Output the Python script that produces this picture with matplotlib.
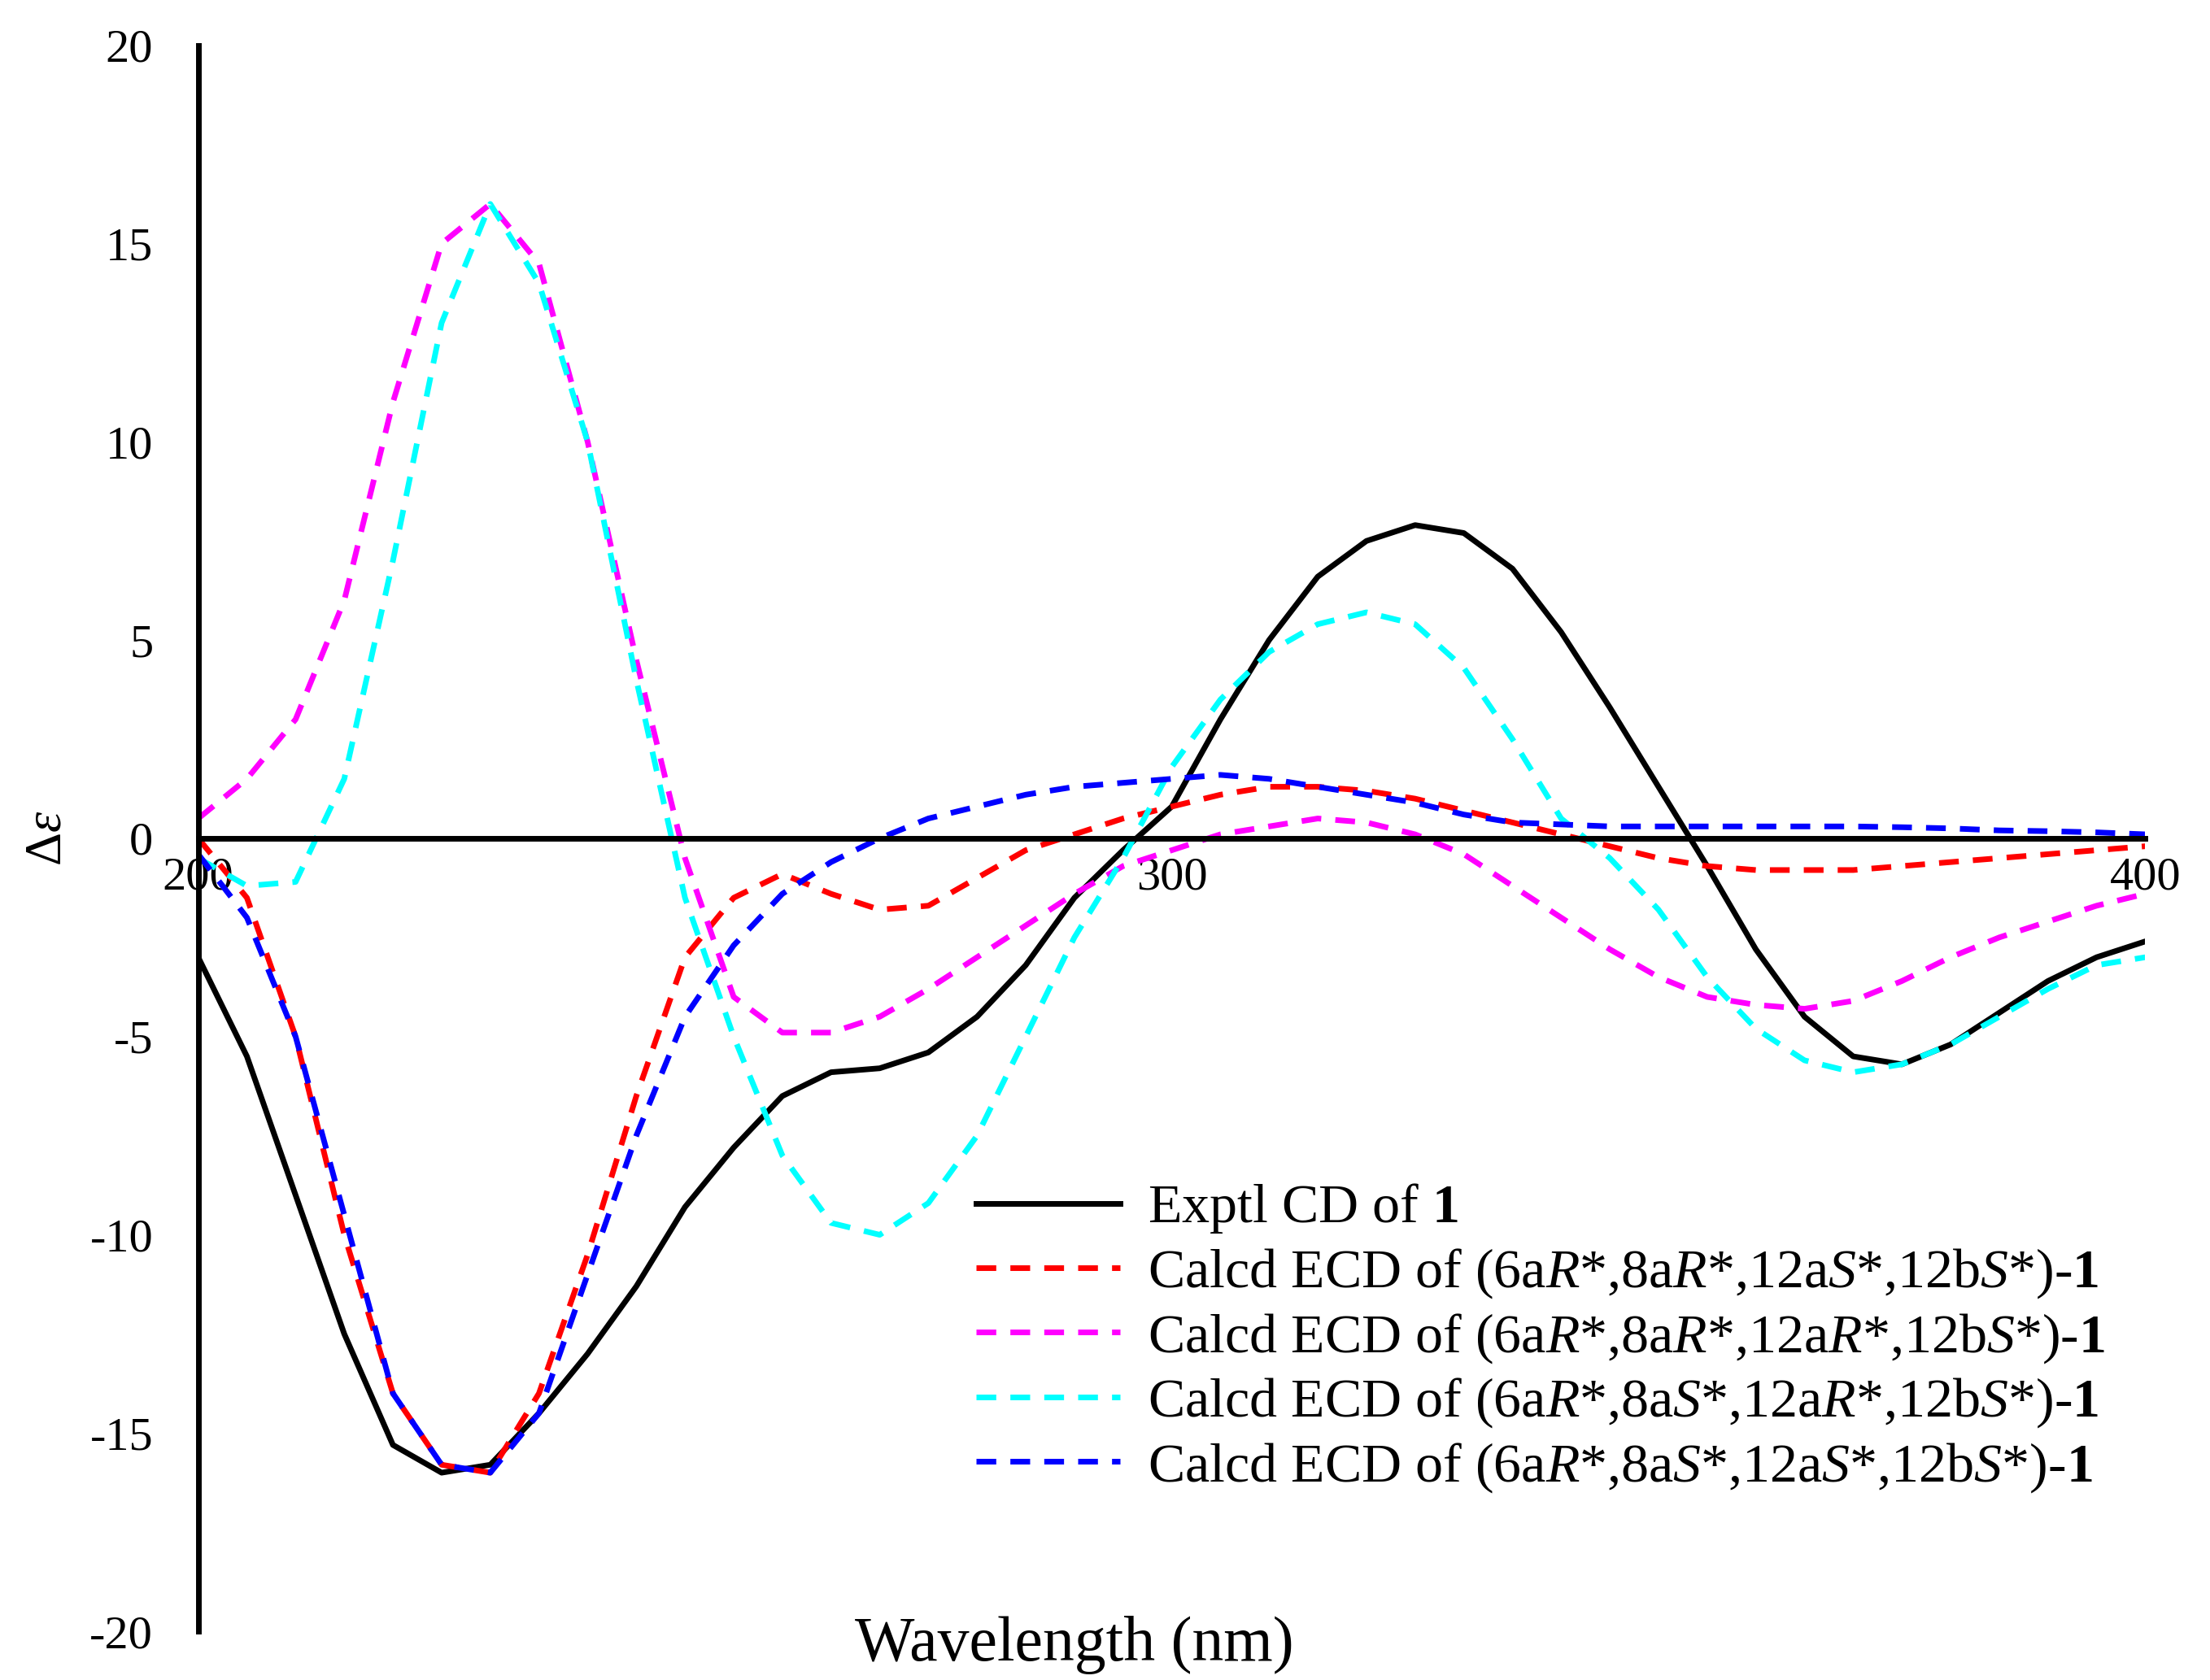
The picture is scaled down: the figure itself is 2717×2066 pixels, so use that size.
import numpy as np
import matplotlib
matplotlib.use("Agg")
import matplotlib.pyplot as plt

plt.rcParams['font.family'] = ['Liberation Serif', 'DejaVu Serif']
plt.rcParams['mathtext.fontset'] = 'custom'
plt.rcParams['mathtext.rm'] = 'Liberation Serif'
plt.rcParams['mathtext.it'] = 'Liberation Serif:italic'
plt.rcParams['mathtext.bf'] = 'Liberation Serif:bold'
plt.rcParams['axes.unicode_minus'] = False

wl = list(range(200, 401, 5))
exptl = [-3, -5.5, -9, -12.5, -15.3, -16, -15.8, -14.5, -13, -11.3, -9.3, -7.8, -6.5, -5.9, -5.8, -5.4, -4.5, -3.2, -1.5, -0.3,
         0.8, 3, 5, 6.6, 7.5, 7.9, 7.7, 6.8, 5.2, 3.3, 1.3, -0.7, -2.8, -4.5, -5.5, -5.7, -5.2, -4.4, -3.6, -3.0, -2.6]
red = [0, -1.5, -5, -10, -14, -15.8, -16, -14, -10.5, -6.5, -3, -1.5, -0.9, -1.4, -1.8, -1.7, -1.0, -0.3, 0.1, 0.5,
       0.8, 1.1, 1.3, 1.3, 1.2, 1.0, 0.7, 0.4, 0.1, -0.2, -0.5, -0.7, -0.8, -0.8, -0.8, -0.7, -0.6, -0.5, -0.4, -0.3, -0.2]
magenta = [0.5, 1.5, 3, 6, 11, 15, 16, 14.5, 10, 4.5, -0.5, -4, -4.9, -4.9, -4.5, -3.8, -3, -2.2, -1.4, -0.7,
           -0.3, 0.1, 0.3, 0.5, 0.4, 0.1, -0.4, -1.2, -2, -2.8, -3.5, -4, -4.2, -4.3, -4.1, -3.6, -3, -2.5, -2.1, -1.7, -1.4]
cyan = [-0.5, -1.2, -1.1, 1.5, 7, 13, 16, 14, 10, 4, -1.5, -5, -8, -9.7, -10, -9.2, -7.5, -5, -2.5, -0.5,
        1.8, 3.5, 4.7, 5.4, 5.7, 5.4, 4.3, 2.5, 0.5, -0.5, -1.8, -3.5, -4.8, -5.6, -5.9, -5.7, -5.2, -4.5, -3.8, -3.2, -3.0]
blue = [-0.4, -2, -5, -9.5, -14, -15.8, -16, -14.5, -11, -7.5, -4.5, -2.7, -1.4, -0.6, 0, 0.5, 0.8, 1.1, 1.3, 1.4,
        1.5, 1.6, 1.5, 1.3, 1.1, 0.9, 0.6, 0.4, 0.35, 0.3, 0.3, 0.3, 0.3, 0.3, 0.3, 0.28, 0.25, 0.2, 0.18, 0.15, 0.1]

labels = [r'Exptl CD of $\mathbf{1}$',
          r'Calcd ECD of (6a$\it{R}$*,8a$\it{R}$*,12a$\it{S}$*,12b$\it{S}$*)-$\mathbf{1}$',
          r'Calcd ECD of (6a$\it{R}$*,8a$\it{R}$*,12a$\it{R}$*,12b$\it{S}$*)-$\mathbf{1}$',
          r'Calcd ECD of (6a$\it{R}$*,8a$\it{S}$*,12a$\it{R}$*,12b$\it{S}$*)-$\mathbf{1}$',
          r'Calcd ECD of (6a$\it{R}$*,8a$\it{S}$*,12a$\it{S}$*,12b$\it{S}$*)-$\mathbf{1}$']

fig = plt.figure(figsize=(27.17, 20.66), dpi=100)
ax = fig.add_axes([0.0897, 0.029, 0.881, 0.944])
lw = 5
ax.plot(wl, exptl, color='black', lw=lw, label=labels[0], solid_joinstyle='round')
for ys, c, lab in [(red, '#ff0000', labels[1]), (magenta, '#ff00ff', labels[2]),
                   (cyan, '#00ffff', labels[3]), (blue, '#0000ff', labels[4])]:
    ax.plot(wl, ys, color=c, lw=lw, ls=(0, (3.5, 2.5)), label=lab)

ax.set_xlim(200, 400)
ax.set_ylim(-20, 20)
ax.spines['bottom'].set_position(('data', 0))
ax.spines['top'].set_visible(False)
ax.spines['right'].set_visible(False)
ax.spines['left'].set_linewidth(5)
ax.spines['bottom'].set_linewidth(5)
ax.set_xticks([200, 300, 400])
ax.set_yticks(range(-20, 21, 5))
ax.tick_params(axis='both', length=0, labelsize=42)
ax.tick_params(axis='x', pad=16)
ax.tick_params(axis='y', pad=40)
ax.set_xlabel('Wavelength (nm)', fontsize=56, labelpad=0)
ax.xaxis.set_label_coords(0.45, 0.01)
ax.set_ylabel(r'Δ$\it{ε}$', fontsize=46, labelpad=10)
ax.yaxis.set_label_coords(-0.065, 0.5)
leg = ax.legend(loc='lower right', bbox_to_anchor=(1.005, 0.055), fontsize=49, frameon=False,
                handlelength=2.6, labelspacing=0.2, handletextpad=0.5)
fig.savefig('out.png', dpi=100)
